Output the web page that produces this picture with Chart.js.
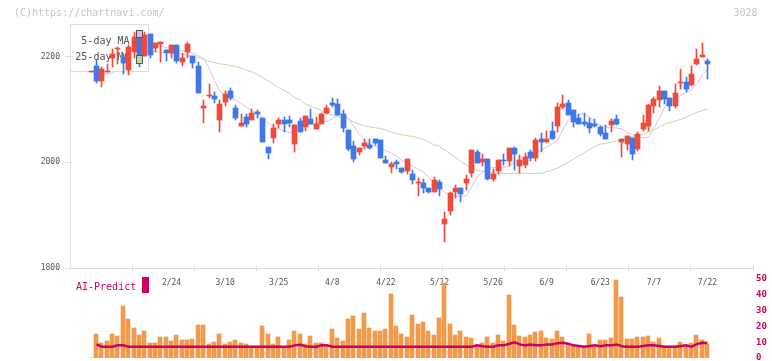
<!DOCTYPE html>
<html><head><meta charset="utf-8">
<script src="https://cdn.jsdelivr.net/npm/chart.js@4.4.0/dist/chart.umd.min.js"></script>
<style>
html,body{margin:0;padding:0;background:#fff;}
#wrap{position:relative;width:772px;height:361px;overflow:hidden;background:#fff;}
#c1{position:absolute;left:0;top:0;}
#c2{position:absolute;left:0;top:270px;}
</style></head><body>
<div id="wrap">
<canvas id="c1" width="772" height="295"></canvas>
<canvas id="c2" width="772" height="100"></canvas>
</div>
<script>
// ---- data (index = trading day, 0..115) ----
const opens  = [2170,2182,2154,2171,2198,2214,2200,2174,2209,2237,2201,2243,2216,2224,2212,2206,2222,2190,2208,2201,2182,2102,2125,2125,2080,2114,2135,2102,2069,2085,2080,2095,2084,2029,2046,2072,2079,2079,2035,2078,2067,2082,2063,2072,2094,2112,2110,2092,2061,2031,2019,2031,2032,2044,2042,2004,1991,2001,1990,1983,1978,1960,1961,1952,1944,1962,1883,1908,1944,1952,1960,1979,2020,2000,2006,1969,1984,2004,2003,2027,1993,1995,2019,2008,2044,2039,2059,2069,2105,2112,2099,2084,2076,2074,2072,2067,2055,2070,2082,2039,2034,2046,2025,2063,2069,2107,2118,2135,2121,2107,2150,2152,2146,2186,2200,2191];
const highs  = [2170,2193,2180,2185,2214,2218,2205,2222,2247,2247,2247,2243,2226,2228,2212,2222,2222,2207,2228,2201,2189,2118,2148,2133,2118,2135,2140,2108,2092,2091,2100,2099,2084,2029,2072,2084,2086,2087,2070,2083,2087,2101,2085,2094,2109,2121,2120,2099,2061,2040,2027,2044,2044,2044,2042,2012,2001,2005,1990,2006,1986,1971,1968,1952,1972,1966,1906,1943,1957,1952,1976,2024,2023,2015,2007,1988,2004,2015,2027,2029,2014,2018,2023,2046,2056,2059,2076,2112,2127,2118,2099,2091,2093,2084,2082,2068,2070,2082,2089,2044,2050,2046,2057,2089,2110,2123,2144,2135,2121,2148,2176,2161,2182,2214,2226,2195];
const lows   = [2170,2150,2142,2170,2180,2186,2167,2165,2197,2181,2201,2198,2208,2190,2192,2197,2187,2183,2198,2178,2131,2075,2121,2113,2058,2106,2118,2080,2069,2067,2080,2084,2039,2007,2036,2064,2057,2067,2020,2058,2060,2072,2063,2072,2091,2104,2089,2058,2021,2001,2014,2025,2025,2033,2008,1999,1979,1988,1979,1978,1959,1936,1942,1941,1944,1936,1849,1900,1933,1925,1947,1972,1999,1993,1966,1965,1978,1994,1993,1986,1980,1990,2003,2003,2020,2039,2044,2058,2101,2090,2066,2073,2069,2056,2066,2050,2044,2058,2070,2010,2023,2004,2021,2059,2059,2093,2104,2110,2097,2103,2138,2133,2144,2184,2200,2157];
const closes = [2170,2154,2176,2173,2205,2217,2188,2218,2237,2202,2241,2203,2226,2228,2206,2222,2192,2198,2224,2188,2131,2107,2126,2120,2110,2130,2122,2084,2075,2073,2093,2092,2039,2018,2064,2079,2072,2075,2070,2058,2087,2072,2072,2091,2103,2108,2089,2065,2025,2007,2027,2037,2027,2036,2008,1999,1997,1996,1982,2006,1966,1961,1952,1944,1966,1950,1892,1941,1952,1940,1969,2024,1999,2006,1968,1978,2004,2002,2027,2015,2004,2010,2008,2042,2039,2044,2044,2104,2110,2090,2077,2073,2072,2065,2069,2053,2044,2078,2072,2044,2050,2015,2053,2074,2108,2120,2135,2120,2106,2131,2151,2138,2167,2195,2203,2186];
const ma5    = [null,null,2167,2167,2169,2182,2193,2199,2209,2216,2220,2223,2222,2220,2217,2215,2213,2211,2209,2206,2201,2197,2178,2155,2135,2127,2121,2117,2111,2104,2098,2092,2084,2074,2067,2063,2059,2056,2057,2068,2071,2072,2073,2076,2078,2082,2089,2091,2083,2068,2053,2042,2034,2030,2027,2022,2017,2012,2004,1998,1993,1987,1981,1972,1960,1951,1943,1937,1936,1935,1937,1953,1972,1981,1988,1990,1991,1991,1992,2000,2008,2010,2014,2019,2023,2029,2034,2042,2061,2080,2085,2090,2092,2085,2076,2070,2067,2065,2065,2063,2057,2053,2048,2046,2048,2065,2083,2104,2118,2121,2127,2132,2137,2148,2165,2176];
const ma25   = [null,null,null,null,null,2209,2209,2209,2209,2209,2209,2209,2209,2208,2208,2207,2206,2204,2202,2200,2198,2194,2191,2189,2186,2185,2183,2181,2178,2174,2171,2166,2160,2154,2148,2141,2136,2130,2122,2118,2110,2105,2102,2097,2092,2089,2086,2085,2082,2076,2072,2069,2067,2065,2064,2061,2057,2054,2052,2050,2049,2046,2043,2038,2033,2030,2023,2016,2009,2001,1995,1989,1985,1983,1981,1980,1979,1979,1979,1979,1979,1979,1979,1979,1979,1982,1985,1989,1994,2000,2006,2012,2018,2024,2030,2034,2036,2038,2040,2043,2046,2048,2050,2053,2057,2061,2067,2072,2075,2078,2081,2085,2090,2094,2098,2101];
const volume = [0,14.9,9.2,10.5,15.5,13.7,33.2,24.4,18.7,14.3,16.8,9.2,9.2,13.0,13.0,10.5,14.3,11.1,11.1,11.8,21.2,20.6,8.6,9.9,15.5,8.6,9.9,11.1,9.2,8.6,7.4,7.4,20.0,15.5,8.6,13.0,6.5,11.1,16.8,14.9,8.6,13.7,9.2,9.2,7.4,18.1,12.4,10.5,24.4,26.3,18.1,28.2,18.7,17.4,16.8,18.1,40.8,20.0,14.9,13.0,26.9,21.8,23.1,16.8,14.3,25.6,47.7,21.8,14.3,16.8,13.0,12.4,7.4,9.2,13.0,9.2,14.3,10.5,40.1,21.2,13.7,13.0,14.3,16.2,17.4,12.4,11.8,16.8,13.0,8.6,7.4,7.4,7.4,14.9,7.4,11.1,11.1,12.4,49.6,38.9,11.8,11.8,13.0,13.0,13.7,9.9,12.4,7.4,7.4,7.4,9.9,7.4,9.2,14.3,11.1,8.6];
const aiPredict = [null,8.6,7.1,7.1,7.1,8.0,8.0,7.1,7.1,7.1,7.1,7.1,7.1,7.1,7.1,7.1,7.1,7.1,7.1,7.1,7.1,7.1,7.1,7.1,7.1,7.1,7.1,7.1,7.1,7.1,7.1,7.1,7.1,7.1,7.1,7.1,7.1,7.1,8.0,8.4,7.5,7.1,7.1,8.0,8.0,7.1,7.1,7.1,7.1,7.1,7.1,7.1,7.1,7.1,7.1,7.1,7.1,7.1,7.1,7.1,7.1,7.1,7.1,7.1,7.1,7.1,7.1,7.1,7.1,7.1,7.1,7.1,8.0,7.5,7.1,7.1,8.0,8.0,9.0,9.9,8.6,8.0,8.5,8.0,8.0,8.6,8.6,9.4,9.6,9.0,8.0,7.6,7.1,7.6,8.0,7.5,8.0,8.0,8.6,7.5,7.1,7.1,7.1,7.6,8.0,8.0,7.6,7.1,7.1,7.1,7.6,8.0,7.1,8.8,9.7,9.5];
const dateLabels   = ['2/24','3/10','3/25','4/8','4/22','5/12','5/26','6/9','6/23','7/7','7/22'];
const dateLabelIdx = [15,25,35,45,55,65,75,85,95,105,115];
const priceTicks = [1800,2000,2200];
const volTicks   = [0,10,20,30,40,50];
const seriesNames = ['5-day MA','25-day MA','AI-Predict'];

// ---- styling ----
const UP='#ef4a3c', DOWN='#3f78ea', MA5C='#e9b8ea', MA25C='#b6dcaa', AIC='#cc0066', VOLC='#f2994a', AXC='#dedede';
const FONT='"DejaVu Sans Mono", monospace';
Chart.defaults.font.family=FONT;
const X_MIN=-3.944, X_MAX=123.49;
const idx=closes.map((_,i)=>i);
const candleColors=idx.map(i=>closes[i]>=opens[i]?UP:DOWN);
const pts=(arr)=>idx.filter(i=>arr[i]!==null).map(i=>({x:i,y:arr[i]}));

const snapBars={id:'snapBars',beforeDatasetsDraw(chart){
  chart.data.datasets.forEach((ds,di)=>{
    const meta=chart.getDatasetMeta(di); if(meta.type!=='bar')return;
    const w=ds.maxBarThickness, off=ds.snapCenter;
    meta.data.forEach(el=>{
      if(el._ox===undefined){el._ox=el.x;el._oy=el.y;el._ob=el.base;}
      el.x=Math.round(el._ox-2.5)+off; el.width=w;
      let y=Math.round(el._oy), b=Math.round(el._ob);
      if(y===b && ds.minBarLength){ y=b-1; }
      el.y=y; el.base=b;
    });
  });
}};

const decorA={id:'decorA',
  beforeDatasetDraw(chart,args){
    if(args.index!==2)return; // before candle wicks: legend box over MA lines
    const c=chart.ctx; c.save();
    c.fillStyle='#fff'; c.fillRect(70,24,79,48);
    c.strokeStyle=AXC; c.lineWidth=1; c.strokeRect(70.5,24.5,78,47);
    c.fillStyle='#555'; c.font='10px '+FONT; c.textAlign='right'; c.textBaseline='alphabetic';
    c.fillText(seriesNames[0],129.5,43.5); c.fillText(seriesNames[1],129.5,59.5);
    c.restore();
  },
  afterDraw(chart){
    const c=chart.ctx, a=chart.chartArea, y=chart.scales.y, xt=chart.scales.xt;
    c.save();
    // swatches
    c.lineWidth=1; c.strokeStyle='#555';
    c.fillStyle=MA5C; c.fillRect(137,31,5,6); c.strokeRect(136.5,30.5,6,7);
    c.fillStyle=MA25C; c.fillRect(137,56,5,7); c.strokeRect(136.5,55.5,6,8);
    // tick marks crossing axes
    c.strokeStyle=AXC; c.beginPath();
    priceTicks.forEach(v=>{const py=Math.floor(y.getPixelForValue(v))+0.5; c.moveTo(a.left-5,py); c.lineTo(a.left+3,py);});
    for(let k=1;k<=11;k++){const px=Math.floor(xt.getPixelForValue(k))+0.5; c.moveTo(px,a.bottom-3); c.lineTo(px,a.bottom+3);}
    c.stroke();
    // header texts
    c.fillStyle='#c4c4c4'; c.font='10px '+FONT; c.textBaseline='alphabetic';
    c.textAlign='left'; c.fillText('(C)https://chartnavi.com/',14,16);
    c.textAlign='right'; c.fillText('3028',757.5,16);
    c.restore();
  }
};

new Chart(document.getElementById('c1'),{
  type:'bar',
  data:{datasets:[
    {type:'line',label:seriesNames[0],data:pts(ma5),borderColor:MA5C,borderWidth:1,pointRadius:0,order:4},
    {type:'line',label:seriesNames[1],data:pts(ma25),borderColor:MA25C,borderWidth:1,pointRadius:0,order:3},
    {type:'bar',label:'range',data:idx.map(i=>({x:i,y:[lows[i],highs[i]]})),backgroundColor:candleColors,barThickness:1,maxBarThickness:1,snapCenter:2.5,grouped:false,order:2},
    {type:'bar',label:'body',data:idx.map(i=>({x:i,y:[opens[i],closes[i]]})),backgroundColor:candleColors,barThickness:5,maxBarThickness:5,snapCenter:2.5,minBarLength:1,grouped:false,order:1}
  ]},
  options:{responsive:false,animation:false,events:[],
    layout:{padding:{left:0,right:19,top:24,bottom:0}},
    plugins:{legend:{display:false},tooltip:{enabled:false}},
    scales:{
      x:{type:'linear',min:X_MIN,max:X_MAX,offset:false,position:'bottom',
        afterBuildTicks:s=>{s.ticks=dateLabelIdx.map(v=>({value:v}));},
        ticks:{callback:v=>{const k=dateLabelIdx.indexOf(v);return k>=0?dateLabels[k]:'';},font:{size:8},color:'#555',padding:10,maxRotation:0,autoSkip:false},
        grid:{display:false,drawTicks:false,offset:false},
        border:{display:true,color:AXC,width:1},
        afterFit:s=>{s.height=27;}},
      xt:{type:'linear',min:0,max:11,display:false,offset:false},
      y:{type:'linear',min:1800,max:2261.5,position:'left',
        afterBuildTicks:s=>{s.ticks=priceTicks.map(v=>({value:v}));},
        ticks:{callback:v=>String(v),font:{size:8},color:'#555',padding:10},
        grid:{display:false,drawTicks:false},
        border:{display:true,color:AXC,width:1},
        afterFit:s=>{s.width=70;}}
    }
  },
  plugins:[snapBars,decorA]
});

const decorB={id:'decorB',afterDraw(chart){
  const c=chart.ctx; c.save();
  c.fillStyle=AIC; c.font='10px '+FONT; c.textAlign='left'; c.textBaseline='alphabetic';
  c.fillText(seriesNames[2],76,20);
  c.fillRect(142,7,7,16);
  c.restore();
}};

new Chart(document.getElementById('c2'),{
  type:'bar',
  data:{datasets:[
    {type:'line',label:seriesNames[2],data:pts(aiPredict),borderColor:AIC,borderWidth:2.5,pointRadius:0,order:1},
    {type:'bar',label:'volume',data:idx.map(i=>({x:i,y:volume[i]})),backgroundColor:VOLC,barThickness:4,maxBarThickness:4,snapCenter:2,grouped:false,order:2}
  ]},
  options:{responsive:false,animation:false,events:[],
    layout:{padding:{left:70,right:0,top:9,bottom:12}},
    plugins:{legend:{display:false},tooltip:{enabled:false}},
    scales:{
      x:{type:'linear',min:X_MIN,max:X_MAX,offset:false,display:false},
      y:{type:'linear',min:0,max:50,position:'right',
        afterBuildTicks:s=>{s.ticks=volTicks.map(v=>({value:v}));},
        ticks:{callback:v=>String(v),font:{size:9,weight:'bold'},color:AIC,padding:3},
        grid:{display:false,drawTicks:false},
        border:{display:false},
        afterFit:s=>{s.width=19;}}
    }
  },
  plugins:[snapBars,decorB]
});
</script>
</body></html>
